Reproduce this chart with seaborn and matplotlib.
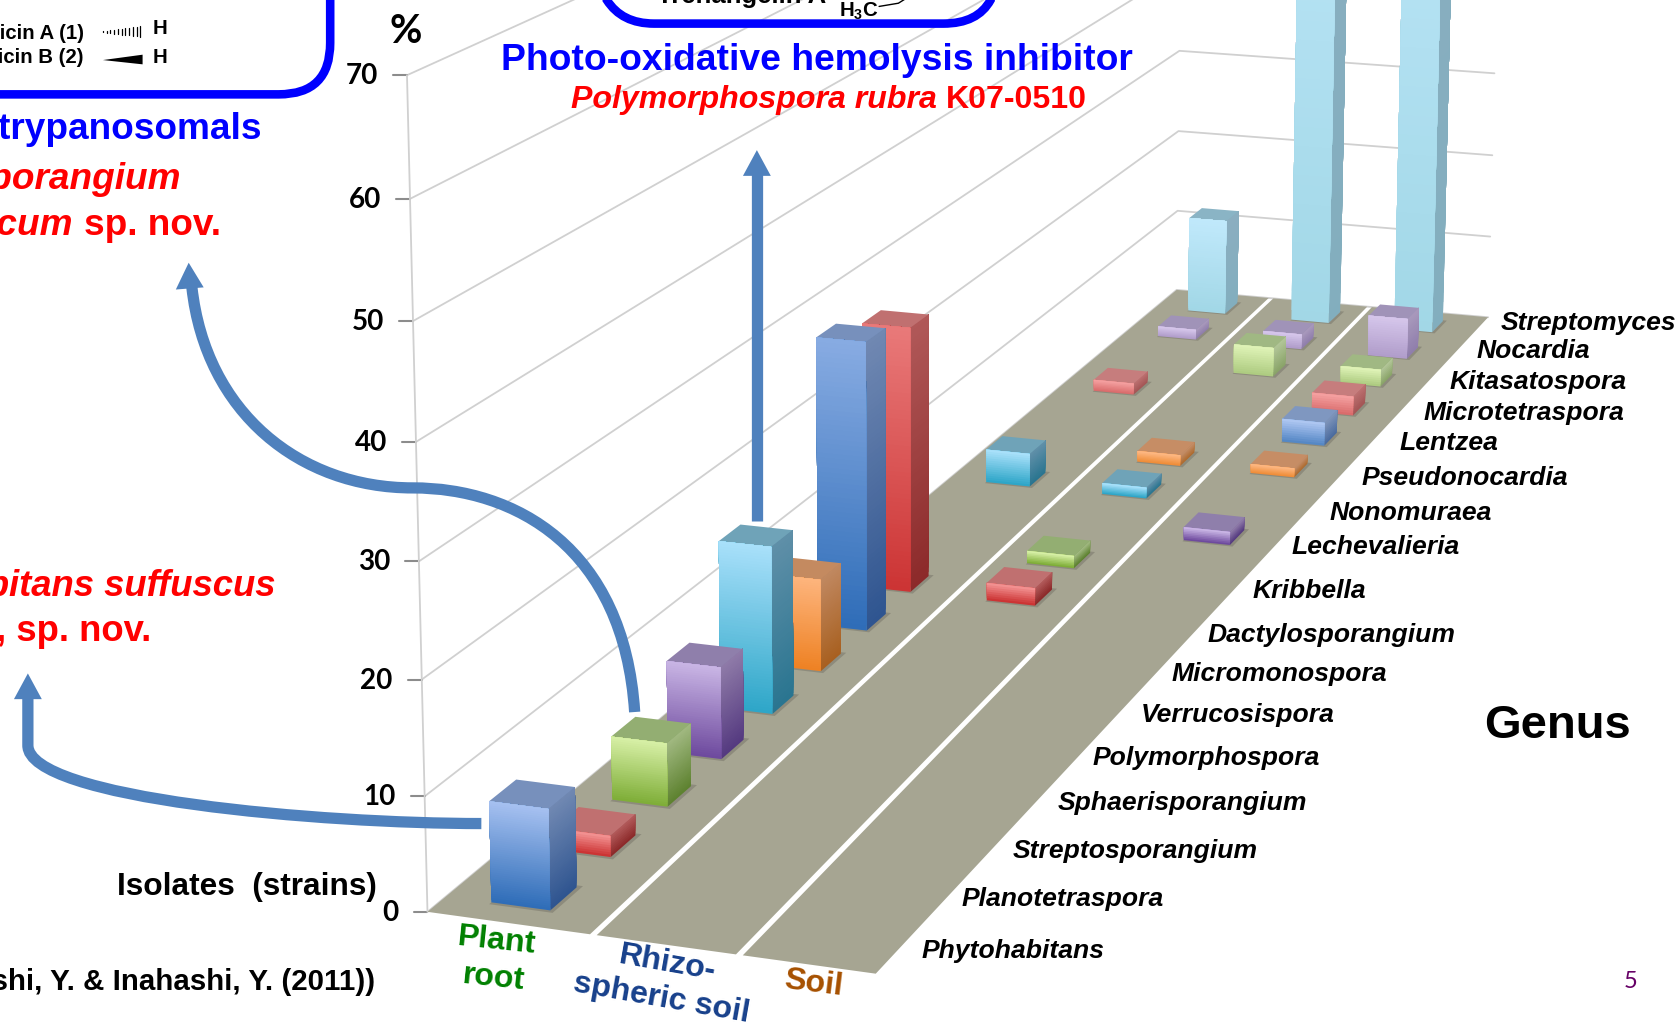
import numpy as np
import matplotlib
matplotlib.use('Agg')
import matplotlib.pyplot as plt
from matplotlib.patches import PathPatch, Polygon
from matplotlib.path import Path
import seaborn as sns

# Isolates (%) per genus, one list per source
genera = ['Phytohabitans', 'Planotetraspora', 'Streptosporangium', 'Sphaerisporangium',
          'Polymorphospora', 'Verrucosispora', 'Micromonospora', 'Dactylosporangium',
          'Kribbella', 'Lechevalieria', 'Nonomuraea', 'Pseudonocardia', 'Lentzea',
          'Microtetraspora', 'Kitasatospora', 'Nocardia', 'Streptomyces']
plant_root = [8.8, 1.9, 5.8, 8.6, 16, 9, 28.8, 27, 0, 0, 3.6, 0, 0, 1.3, 0, 1.2, 11.5]
rhizo_soil = [0, 0, 0, 0, 0, 0, 0, 1.8, 1.3, 0, 1.2, 1.2, 0, 0, 3.4, 1.8, 70]
soil = [0, 0, 0, 0, 0, 0, 0, 0, 0, 1.4, 0, 1, 2.6, 2.2, 2, 4.8, 70]
sources = ['Plant\nroot', 'Rhizo-\nspheric soil', 'Soil']
y_ticks = [0, 10, 20, 30, 40, 50, 60, 70]

# where the genus names sit on the slide (left edge, middle)
label_x = [860, 897, 945, 987, 1019, 1064, 1093, 1126, 1168, 1205, 1240, 1270, 1305, 1328, 1352, 1377, 1400]
label_y = [887, 838, 794, 749, 707, 667, 629, 592, 551, 510, 478, 446, 413, 385, 356, 327, 301]

# colour cycle of the excel chart: front top, front bottom, side top, side bottom, lid
bar_colors = [
    ['#a5c0f0', '#2f6db8', '#7088b2', '#2f5590', '#7790bc'],
    ['#f29090', '#cc3434', '#b05858', '#8c2a2a', '#c07070'],
    ['#d6efa5', '#7fae38', '#a0b880', '#5e8230', '#93ae72'],
    ['#c8b4e4', '#6e4a9e', '#8e7aa8', '#553a80', '#8f7fab'],
    ['#a8e0fa', '#2ea6c8', '#5f8fa8', '#2a7590', '#6fa3b8'],
    ['#fdb47c', '#ee8224', '#c08860', '#a86020', '#c48a60'],
]

# strips on the floor as (u at front, u at back) of each edge, the slide's lines are skewed
strip_left = [(0, 0), (0.385, 0.315), (0.71, 0.632)]
strip_right = [(0.37, 0.30), (0.695, 0.617), (1, 1)]
strip_mid = [(0.172, 0.165), (0.505, 0.495), (0.83, 0.82)]

SCALE = 1681 / 1568
PT = 72 / 100 * SCALE
ARROW = '#4f81bd'
FLOOR = '#a6a592'

sns.set_theme(style='white')
plt.rcParams['font.family'] = ['Liberation Sans', 'DejaVu Sans']
plt.rcParams['text.color'] = 'black'
plt.rcParams['mathtext.fontset'] = 'custom'
plt.rcParams['mathtext.bf'] = 'Liberation Sans:bold'

fig = plt.figure(figsize=(16.81, 10.23), dpi=100)
ax = fig.add_axes([0, 0, 1, 1])
ax.set_xlim(0, 1568)
ax.set_ylim(954, 0)
ax.axis('off')

# Fit a camera matrix to the box corners seen on the slide, (u, v, value) -> pixel
box_world = [(0, 0, 0), (1, 0, 0), (1, 1, 0), (0, 1, 0), (0, 0, 70), (0, 1, 30),
             (1, 1, 30), (0, 0, 30), (0, 1, 20), (1, 1, 20)]
box_pixel = [(400, 850), (817, 908), (1388, 296), (1098, 270), (381, 70), (1100, 47),
             (1394, 68), (388, 524), (1099, 123), (1392, 145)]
rows = []
for (u, v, h), (px, py) in zip(box_world, box_pixel):
    w = [u, v, h / 70, 1]
    px, py = px / 1000, py / 1000
    rows.append(w + [0, 0, 0, 0] + [-px * c for c in w])
    rows.append([0, 0, 0, 0] + w + [-py * c for c in w])
cam = np.linalg.svd(np.array(rows))[2][-1].reshape(3, 4)


def project(u, v, h=0):
    p = cam @ np.array([u, v, h / 70, 1])
    return p[0] / p[2] * 1000, p[1] / p[2] * 1000


def fade(color, amount):
    rgb = np.array(matplotlib.colors.to_rgb(color))
    return tuple(rgb + (1 - rgb) * amount)


def shaded_face(corners, top_color, bottom_color, z):
    # corners: bottom-a, bottom-b, top-b, top-a. Drawn as thin strips for the gradient
    a0, b0, b1, a1 = [np.array(c) for c in corners]
    n = int(np.clip(abs(a1[1] - a0[1]) / 2, 8, 60))
    shades = sns.blend_palette([bottom_color, top_color], n_colors=n)
    for i in range(n):
        # every strip runs on to the top, the next one paints over it, so no seams
        t0 = i / n
        strip = [a0 + (a1 - a0) * t0, b0 + (b1 - b0) * t0, b1, a1]
        ax.add_patch(Polygon(strip, closed=True, fc=shades[i], ec='none', zorder=z + i * 0.0001))


def draw_bar(center_u, center_v, value, colors, z):
    du, dv = 0.068 - 0.009 * center_v, 0.0125
    u0, u1, v0, v1 = center_u - du, center_u + du, center_v - dv, center_v + dv
    f = np.clip((center_v - 0.62) / 0.38, 0, 1)
    # tall bars are deeper at their top than the stubby ones
    front_top = colors[0]
    if value > 20 and value < 60:
        front_top = sns.blend_palette([colors[0], colors[1]], n_colors=5)[1]
    # soft shadow on the floor
    shadow = [project(u0, v0 - 0.002), project(u1 + 0.01, v0 - 0.002),
              project(u1 + 0.01, v1 + 0.002), project(u0, v1 + 0.002)]
    ax.add_patch(Polygon(shadow, closed=True, fc='#55524a', ec='none', alpha=0.3, zorder=z))
    shaded_face([project(u1, v0), project(u1, v1), project(u1, v1, value), project(u1, v0, value)],
                fade(colors[2], f * 0.3), fade(colors[3], f * 0.45), z + 0.1)
    ax.add_patch(Polygon([project(u0, v0, value), project(u1, v0, value),
                          project(u1, v1, value), project(u0, v1, value)],
                         closed=True, fc=fade(colors[4], f * 0.2), ec='none', zorder=z + 0.2))
    shaded_face([project(u0, v0), project(u1, v0), project(u1, v0, value), project(u0, v0, value)],
                fade(front_top, f * 0.3), fade(colors[1], f * 0.6), z + 0.3)


# walls: only the grid lines show
for tick in y_ticks:
    ax.plot(*zip(project(0, 0, tick), project(0, 1, tick), project(1, 1, tick)),
            color='#d0d0d0', lw=1.3, zorder=1)
    x0, y0 = project(0, 0, tick)
    ax.plot([x0 - 13, x0], [y0, y0], color='#8c8c8c', lw=1.5, zorder=1)
    ax.text(x0 - 27, y0 + 1, str(tick), family='Lato', weight='bold', fontsize=26 * PT,
            color='black', ha='right', va='center', zorder=8)
ax.plot(*zip(project(0, 0, 0), project(0, 0, 70)), color='#d0d0d0', lw=1.3, zorder=1)

# floor, cut in three strips by white lines
for left, right in zip(strip_left, strip_right):
    ax.add_patch(Polygon([project(left[0], 0), project(right[0], 0), project(right[1], 1), project(left[1], 1)],
                         closed=True, fc=FLOOR, ec='none', zorder=2))

# back to front so the near bars cover the far ones
strip_values = [plant_root, rhizo_soil, soil]
for g in range(len(genera) - 1, -1, -1):
    for s, values in enumerate(strip_values):
        if values[g] > 0:
            center_v = (g + 0.5) / len(genera)
            center_u = strip_mid[s][0] + (strip_mid[s][1] - strip_mid[s][0]) * center_v
            draw_bar(center_u, center_v, values[g], bar_colors[g % 6], 3 + (len(genera) - g))

# genus names
for name, x, y in zip(genera, label_x, label_y):
    ax.text(x, y, name, weight='bold', style='italic', fontsize=24.7 * PT, color='black',
            ha='left', va='center', zorder=30)

# strip names
ax.text(462, 895, sources[0], weight='bold', fontsize=30 * PT, color='#008000', ha='center',
        va='center', rotation=-6, linespacing=1.35, zorder=30)
ax.text(620, 915, sources[1], weight='bold', fontsize=30 * PT, color='#17408b', ha='center',
        va='center', rotation=-10, linespacing=1.25, zorder=30)
ax.text(759, 917, sources[2], weight='bold', fontsize=30 * PT, color='#a65000', ha='center',
        va='center', rotation=-7, zorder=30)

# side notes
ax.text(378, 29, '%', family='Lato', weight='bold', fontsize=37 * PT, ha='center', va='center')
ax.text(1453, 677, 'Genus', weight='bold', fontsize=44 * PT, ha='center', va='center')
ax.text(352, 827, 'Isolates  (strains)', weight='bold', fontsize=29.5 * PT, ha='right', va='center')
ax.text(350, 916, 'Takahashi, Y. & Inahashi, Y. (2011))', weight='bold', fontsize=27.5 * PT,
        ha='right', va='center')
ax.text(1521, 915, '5', family='Lato', fontsize=22 * PT, color='#660066', ha='center', va='center')

# call-outs
ax.text(762, 56, 'Photo-oxidative hemolysis inhibitor', weight='bold', fontsize=34.7 * PT,
        color='#0000ff', ha='center', va='center', zorder=30)
ax.text(874, 93, 'Polymorphospora rubra', weight='bold', style='italic', fontsize=30 * PT,
        color='#ff0000', ha='right', va='center', zorder=30)
ax.text(882, 93, 'K07-0510', weight='bold', fontsize=30 * PT, color='#ff0000', ha='left',
        va='center', zorder=30)
ax.text(244, 121, 'Antitrypanosomals', weight='bold', fontsize=34.5 * PT, color='#0000ff',
        ha='right', va='center', zorder=30)
ax.text(169, 167, 'Streptosporangium', weight='bold', style='italic', fontsize=34.5 * PT,
        color='#ff0000', ha='right', va='center', zorder=30)
ax.text(68, 210, 'oxazolinicum', weight='bold', style='italic', fontsize=34.5 * PT,
        color='#ff0000', ha='right', va='center', zorder=30)
ax.text(78, 210, 'sp. nov.', weight='bold', fontsize=34.5 * PT, color='#ff0000', ha='left',
        va='center', zorder=30)
ax.text(257, 547, 'Phytohabitans suffuscus', weight='bold', style='italic', fontsize=34 * PT,
        color='#ff0000', ha='right', va='center', zorder=30)
ax.text(141, 589, 'gen. nov., sp. nov.', weight='bold', fontsize=34 * PT, color='#ff0000',
        ha='right', va='center', zorder=30)

# rounded boxes running off the slide
left_box = Path([(-20, 88), (260, 88), (308, 88), (308, 40), (308, -20)],
                [Path.MOVETO, Path.LINETO, Path.CURVE3, Path.CURVE3, Path.LINETO])
ax.add_patch(PathPatch(left_box, fc='none', ec='#0000ff', lw=8 * PT, zorder=6))
top_box = Path([(566, -20), (566, 0), (580, 22), (610, 22), (880, 22), (912, 22), (924, 0), (924, -20)],
               [Path.MOVETO, Path.LINETO, Path.CURVE3, Path.CURVE3, Path.LINETO, Path.CURVE3,
                Path.CURVE3, Path.LINETO])
ax.add_patch(PathPatch(top_box, fc='none', ec='#0000ff', lw=8 * PT, zorder=6))

# bits of the structure drawings inside the boxes
ax.text(78, 31, 'Spoxazomicin A (1)', weight='bold', fontsize=19 * PT, ha='right', va='center')
ax.text(78, 54, 'Spoxazomicin B (2)', weight='bold', fontsize=19 * PT, ha='right', va='center')
ax.text(149, 27, 'H', weight='bold', fontsize=19 * PT, ha='center', va='center')
ax.text(149, 54, 'H', weight='bold', fontsize=19 * PT, ha='center', va='center')
for x, half in zip(np.arange(96, 134, 3.5), np.arange(0.6, 5.2, 0.42)):
    ax.plot([x, x], [29.5 - half, 29.5 + half], color='black', lw=0.9)
ax.add_patch(Polygon([(96, 56), (133, 51), (133, 60)], closed=True, fc='black', ec='none'))
ax.text(692, -4, 'Trehangelin A', weight='bold', fontsize=24 * PT, ha='center', va='center')
ax.text(801, 11, r'$\mathbf{H_3C}$', fontsize=19 * PT, ha='center', va='center')
ax.plot([820, 838, 846], [6, 3, -2], color='black', lw=1)


def arrow(path_pts, codes, tip, base):
    ax.add_patch(PathPatch(Path(path_pts, codes), fc='none', ec=ARROW, lw=10.5 * PT,
                           capstyle='butt', zorder=27))
    ax.add_patch(Polygon([tip, base[:2], base[2:]], closed=True, fc=ARROW, ec='none', zorder=27))


C4 = Path.CURVE4
arrow([(706, 486), (706, 160)], [Path.MOVETO, Path.LINETO], (706, 140), (693, 164, 719, 164))
arrow([(592, 664), (582, 510), (480, 455), (385, 455), (280, 455), (192, 385), (179, 268)],
      [Path.MOVETO, C4, C4, C4, C4, C4, C4], (176, 245), (164, 270, 190, 268))
arrow([(449, 768), (300, 768), (26, 745), (26, 695), (26, 650)],
      [Path.MOVETO, C4, C4, C4, Path.LINETO], (26, 628), (13, 652, 39, 652))

sns.despine(ax=ax, left=True, bottom=True)
fig.savefig('out.png', dpi=100, facecolor='white')
